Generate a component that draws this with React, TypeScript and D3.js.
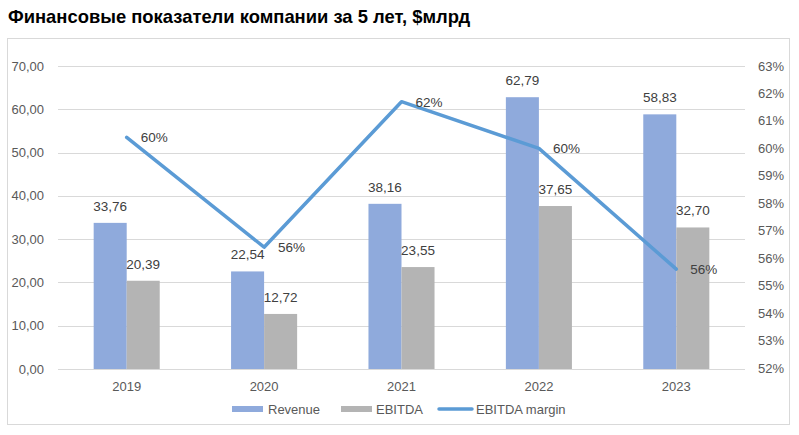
import React, { useRef, useEffect } from 'react'
import * as d3 from 'd3'

const years = ['2019', '2020', '2021', '2022', '2023']
const revenue = [33.76, 22.54, 38.16, 62.79, 58.83]
const ebitda = [20.39, 12.72, 23.55, 37.65, 32.7]
const margin = [60.4, 56.4, 61.7, 60.0, 55.6]
const marginLabels = ['60%', '56%', '62%', '60%', '56%']
const leftTicks = [0, 10, 20, 30, 40, 50, 60, 70]
const rightTicks = [52, 53, 54, 55, 56, 57, 58, 59, 60, 61, 62, 63]
const seriesNames = ['Revenue', 'EBITDA']

const W = 799
const H = 435
const font = "'Liberation Sans', Arial, sans-serif"

export default function App() {
  const ref = useRef<SVGSVGElement>(null)

  useEffect(() => {
    const svg = d3.select(ref.current)
    svg.selectAll('*').remove()

    const plot = { left: 58, right: 745, top: 66, bottom: 369 }

    svg
      .append('text')
      .attr('x', 8)
      .attr('y', 23)
      .attr('font-family', font)
      .attr('font-weight', 'bold')
      .attr('font-size', 18.4)
      .attr('fill', '#000')
      .text('Финансовые показатели компании за 5 лет, $млрд')

    svg
      .append('rect')
      .attr('x', 7.5)
      .attr('y', 38.5)
      .attr('width', 782)
      .attr('height', 386)
      .attr('fill', '#fff')
      .attr('stroke', '#d9d9d9')

    const x0 = d3.scaleBand().domain(years).range([plot.left, plot.right])
    const x1 = d3
      .scaleBand()
      .domain(seriesNames)
      .range([0, x0.bandwidth()])
      .paddingInner(0)
      .paddingOuter(1.08)
    const yL = d3.scaleLinear().domain([0, 70]).range([plot.bottom, plot.top])
    const yR = d3.scaleLinear().domain([52, 63]).range([plot.bottom - 1, plot.top])

    // grid
    svg
      .append('g')
      .selectAll('line')
      .data(leftTicks)
      .join('line')
      .attr('x1', plot.left)
      .attr('x2', plot.right)
      .attr('y1', d => Math.round(yL(d)) + 0.5)
      .attr('y2', d => Math.round(yL(d)) + 0.5)
      .attr('stroke', '#d9d9d9')

    // left axis labels
    svg
      .append('g')
      .selectAll('text')
      .data(leftTicks)
      .join('text')
      .attr('x', 44)
      .attr('y', d => yL(d) + 4.5)
      .attr('text-anchor', 'end')
      .attr('font-family', font)
      .attr('font-size', 13)
      .attr('fill', '#595959')
      .text(d => d3.format('.2f')(d).replace('.', ','))

    // right axis labels
    svg
      .append('g')
      .selectAll('text')
      .data(rightTicks)
      .join('text')
      .attr('x', 758)
      .attr('y', d => yR(d) + 4.5)
      .attr('font-family', font)
      .attr('font-size', 13)
      .attr('fill', '#595959')
      .text(d => d + '%')

    // x labels
    svg
      .append('g')
      .selectAll('text')
      .data(years)
      .join('text')
      .attr('x', d => x0(d)! + x0.bandwidth() / 2)
      .attr('y', 391)
      .attr('text-anchor', 'middle')
      .attr('font-family', font)
      .attr('font-size', 13)
      .attr('fill', '#595959')
      .text(d => d)

    const colors: Record<string, string> = { Revenue: '#8faadc', EBITDA: '#b4b4b4' }
    const rows = years.map((y, i) => ({ year: y, Revenue: revenue[i], EBITDA: ebitda[i] }))

    const groups = svg
      .append('g')
      .selectAll('g')
      .data(rows)
      .join('g')
      .attr('transform', d => `translate(${x0(d.year)},0)`)

    groups
      .selectAll('rect')
      .data(d => seriesNames.map(k => ({ key: k, value: (d as any)[k] as number })))
      .join('rect')
      .attr('x', d => x1(d.key)!)
      .attr('y', d => yL(d.value))
      .attr('width', x1.bandwidth())
      .attr('height', d => yL(0) - yL(d.value))
      .attr('fill', d => colors[d.key])

    groups
      .selectAll('text')
      .data(d => seriesNames.map(k => ({ key: k, value: (d as any)[k] as number })))
      .join('text')
      .attr('x', d => x1(d.key)! + x1.bandwidth() / 2)
      .attr('y', d => yL(d.value) - 12)
      .attr('text-anchor', 'middle')
      .attr('font-family', font)
      .attr('font-size', 13.5)
      .attr('fill', '#404040')
      .text(d => d3.format('.2f')(d.value).replace('.', ','))

    // margin line
    const cx = (d: string) => x0(d)! + x0.bandwidth() / 2
    const line = d3
      .line<number>()
      .x((_, i) => cx(years[i]))
      .y(d => yR(d))

    svg
      .append('path')
      .datum(margin)
      .attr('d', line)
      .attr('fill', 'none')
      .attr('stroke', '#5b9bd5')
      .attr('stroke-width', 3.5)
      .attr('stroke-linejoin', 'round')
      .attr('stroke-linecap', 'round')

    svg
      .append('g')
      .selectAll('text')
      .data(margin)
      .join('text')
      .attr('x', (_, i) => cx(years[i]) + 14)
      .attr('y', d => yR(d) + 5)
      .attr('font-family', font)
      .attr('font-size', 13.5)
      .attr('fill', '#404040')
      .text((_, i) => marginLabels[i])

    // legend
    const leg = svg.append('g').attr('font-family', font).attr('font-size', 13).attr('fill', '#595959')
    const ly = 409
    leg.append('rect').attr('x', 232).attr('y', ly - 3).attr('width', 31).attr('height', 6).attr('fill', colors.Revenue)
    leg.append('text').attr('x', 268).attr('y', ly + 4.5).text('Revenue')
    leg.append('rect').attr('x', 341).attr('y', ly - 3).attr('width', 31).attr('height', 6).attr('fill', colors.EBITDA)
    leg.append('text').attr('x', 376).attr('y', ly + 4.5).text('EBITDA')
    leg
      .append('line')
      .attr('x1', 439)
      .attr('x2', 472)
      .attr('y1', ly)
      .attr('y2', ly)
      .attr('stroke', '#5b9bd5')
      .attr('stroke-width', 3.5)
      .attr('stroke-linecap', 'round')
    leg.append('text').attr('x', 476).attr('y', ly + 4.5).text('EBITDA margin')
  }, [])

  return (
    <svg
      ref={ref}
      width={W}
      height={H}
      style={{ position: 'absolute', left: 0, top: 0, display: 'block' }}
    />
  )
}
